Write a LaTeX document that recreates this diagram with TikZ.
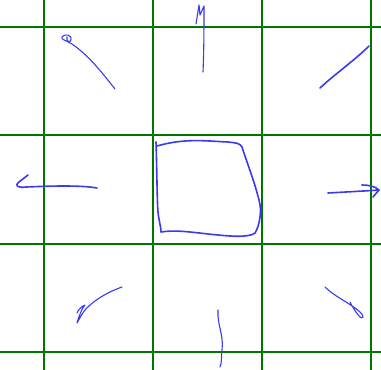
\documentclass[tikz,border=0pt]{standalone}
\usepackage{tikz}
\usepackage{xcolor}
\definecolor{gridgreen}{RGB}{0,118,0}
\definecolor{penblue}{RGB}{58,58,238}

\begin{document}
\begin{tikzpicture}[x=1pt,y=-1pt,line cap=round,line join=round]
\tikzset{
  grid/.style={draw=gridgreen,line width=2.2pt},
  pen/.style={draw=penblue,line width=1.6pt},
  thin pen/.style={draw=penblue,line width=1.1pt}
}
\useasboundingbox[fill=white] (0,0) rectangle (381,370);
% green grid
\foreach \gx in {44,153,262,371} \draw[grid] (\gx,0) -- (\gx,370);
\foreach \gy in {27,135,244,352} \draw[grid] (0,\gy) -- (381,\gy);
% centre square
\draw[pen] (156,142) .. controls (157,170) and (157,200) .. (158,212)
  .. controls (159,222) and (161,226) .. (161,232)
  .. controls (180,229) and (200,234) .. (230,236)
  .. controls (245,237) and (253,235) .. (255,233)
  .. controls (260,225) and (262,210) .. (259,200)
  .. controls (254,180) and (246,160) .. (242,147)
  .. controls (240,143) and (236,143) .. (228,142)
  .. controls (205,141) and (185,138) .. (157,146);
% top
\draw[thin pen] (203,72) .. controls (204,50) and (204,25) .. (204,6)
  -- (200,15) -- (199,5) -- (196,24);
% top left
\draw[thin pen] (115,89) .. controls (100,70) and (88,55) .. (72,44)
  .. controls (66,40) and (61,40) .. (62,37) .. controls (64,33) and (73,35) .. (71,40)
  .. controls (70,43) and (66,42) .. (67,37);
% top right
\draw[pen] (320,88) .. controls (335,74) and (355,60) .. (369,46);
% left
\draw[pen] (97,188) .. controls (80,185) and (50,186) .. (26,187)
  .. controls (18,188) and (14,186) .. (19,182) -- (28,175);
% right
\draw[pen] (328,193) .. controls (345,192) and (365,191) .. (379,190)
  .. controls (375,186) and (368,185) .. (362,185);
\draw[pen] (379,190) -- (373,197);
% bottom left
\draw[thin pen] (122,287) .. controls (105,293) and (92,302) .. (85,310)
  .. controls (81,315) and (79,320) .. (77,323)
  .. controls (79,316) and (82,308) .. (85,305)
  .. controls (82,306) and (78,310) .. (77,313);
% bottom
\draw[thin pen] (218,310) .. controls (217,325) and (224,335) .. (222,350)
  .. controls (221,358) and (222,363) .. (220,367);
% bottom right
\draw[thin pen] (325,287) .. controls (335,297) and (350,303) .. (360,312)
  .. controls (365,317) and (363,319) .. (360,317)
  .. controls (356,313) and (352,306) .. (350,302);
\end{tikzpicture}
\end{document}
